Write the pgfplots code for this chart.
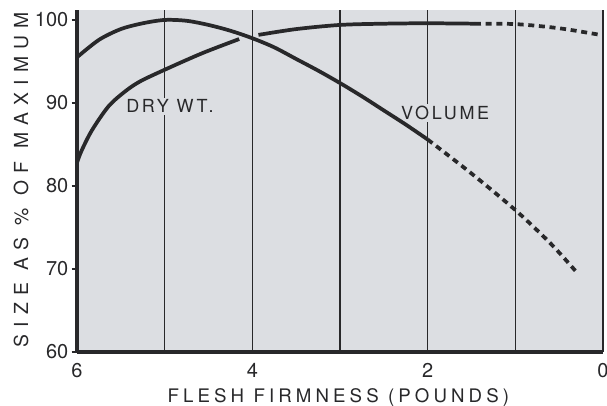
\documentclass[border=0pt]{standalone}
\usepackage{pgfplots}
\pgfplotsset{compat=1.18}
\usepackage{fontspec}
\setmainfont{TeX Gyre Heros}
\newfontfamily\xspaced[LetterSpace=22]{TeX Gyre Heros}
\newfontfamily\yspaced[LetterSpace=37]{TeX Gyre Heros}
\newfontfamily\lspaced[LetterSpace=15]{TeX Gyre Heros}
\definecolor{bg}{RGB}{220,222,226}
\definecolor{ink}{RGB}{40,40,42}
\begin{document}
\begin{tikzpicture}
\path[use as bounding box] (-57.75pt,-40.5pt) rectangle (397.5pt,264pt);
\begin{axis}[
  at={(0,0)}, anchor=south west,
  scale only axis, width=394.5pt, height=256.5pt,
  xmin=0, xmax=6, x dir=reverse,
  ymin=60, ymax=101.2,
  axis lines=left, axis line style={ink, line width=2.6pt, -},
  axis background/.style={fill=bg},
  xtick={0,1,2,3,4,5,6}, xticklabels={0,,2,,4,,6},
  xmajorgrids, grid style={ink, line width=1.2pt},
  major x tick style={draw=none},
  ytick={60,70,80,90,100},
  ytick style={ink, line width=1.8pt},
  tick align=outside, major tick length=4pt,
  /pgf/number format/assume math mode=true,
  ticklabel style={font=\fontsize{15}{17}\selectfont, text=ink},
  xticklabel style={yshift=-1pt},
  yticklabel style={xshift=1pt},
  clip=false,
]
\node[font=\lspaced\fontsize{13.5}{15}\selectfont, text=ink, fill=bg, inner sep=1.5pt] at (axis cs:4.94,89.6) {DRY WT.};
\node[font=\lspaced\fontsize{13.5}{15}\selectfont, text=ink, fill=bg, inner sep=1.5pt] at (axis cs:1.80,88.8) {VOLUME};
\addplot[ink, line width=2.8pt, smooth] coordinates {
 (6,95.5) (5.75,97.6) (5.5,98.9) (5.25,99.6) (5,100) (4.75,99.9) (4.5,99.4)
 (4.25,98.7) (4,97.8) (3.75,96.7) (3.5,95.3) (3.25,93.9) (3,92.4) (2.75,90.8)
 (2.5,89.1) (2.25,87.4) (2,85.6)};
\addplot[ink, line width=2.8pt, dash pattern=on 4.5pt off 3.5pt, smooth] coordinates {
 (2,85.6) (1.5,81.5) (1,77.1) (0.6,73.1) (0.3,69.6)};
\addplot[ink, line width=2.8pt, smooth] coordinates {
 (6,82.8) (5.95,84.2) (5.83,86.7) (5.64,89.6) (5.45,91.4) (5.28,92.6) (5,94.0)
 (4.57,96.0) (4.15,97.7)};
\addplot[ink, line width=2.8pt, smooth] coordinates {
 (3.93,98.2) (3.5,98.9) (3,99.4) (2.5,99.55) (2,99.6) (1.46,99.55)};
\addplot[ink, line width=2.8pt, dash pattern=on 4.5pt off 3.5pt, smooth] coordinates {
 (1.46,99.55) (1,99.5) (0.5,99.0) (0.03,98.2)};
\end{axis}
\node[font=\xspaced\fontsize{14}{16}\selectfont, text=ink] at (196pt,-34.5pt) {FLESH FIRMNESS (POUNDS)};
\node[font=\yspaced\fontsize{14.5}{16}\selectfont, text=ink, rotate=90] at (-42pt,129pt) {SIZE AS \% OF MAXIMUM};
\end{tikzpicture}
\end{document}
